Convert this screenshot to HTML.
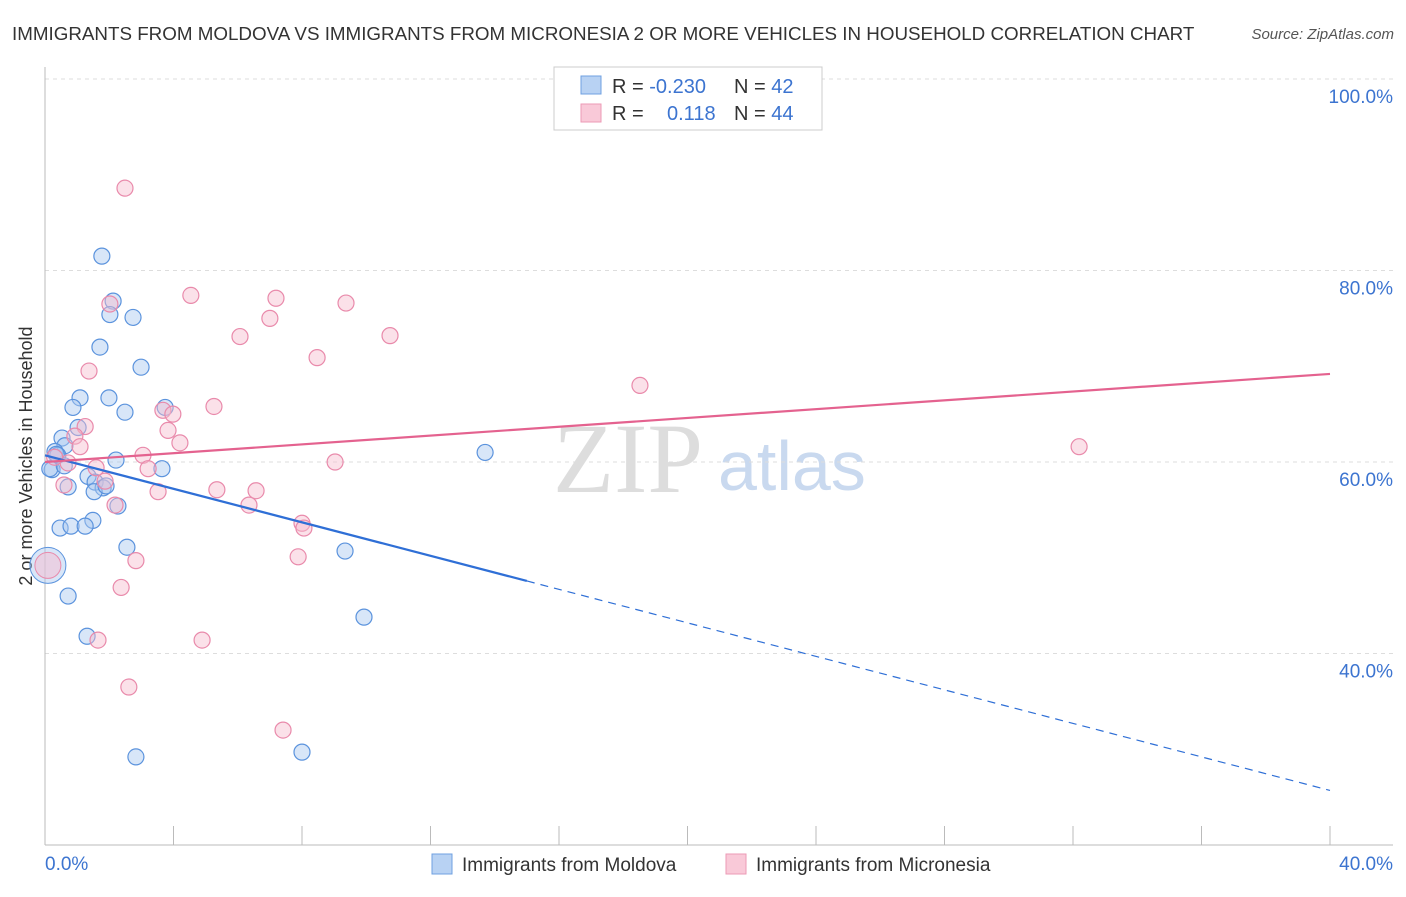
<!DOCTYPE html>
<html><head><meta charset="utf-8"><style>
body{margin:0;background:#fff;font-family:"Liberation Sans",sans-serif;}
svg text{font-family:"Liberation Sans",sans-serif;}
</style></head><body>
<svg id="c" width="1406" height="892">
<text x="12" y="40" font-size="18.8" fill="#333">IMMIGRANTS FROM MOLDOVA VS IMMIGRANTS FROM MICRONESIA 2 OR MORE VEHICLES IN HOUSEHOLD CORRELATION CHART</text>
<text x="1394" y="39" font-size="15" fill="#555" font-style="italic" text-anchor="end">Source: ZipAtlas.com</text>
<text x="32" y="456" font-size="18" fill="#333" text-anchor="middle" transform="rotate(-90 32 456)">2 or more Vehicles in Household</text>
<text x="553" y="492" font-size="100" fill="#ddd" style="font-family:'Liberation Serif',serif">ZIP</text>
<text x="718" y="490" font-size="70" fill="#c9d9ef">atlas</text>
<g id="grid"></g><g id="marks"></g>
<g>
<rect x="554" y="67" width="268" height="63" fill="#fff" stroke="#ccc"/>
<rect x="581" y="76" width="20" height="18" fill="#b8d2f3" stroke="#6fa0e0"/>
<rect x="581" y="104" width="20" height="18" fill="#f9c9d8" stroke="#ec9ab6"/>
<text x="612" y="93" font-size="20" fill="#333">R = <tspan fill="#3c74d0">-0.230</tspan></text>
<text x="734" y="93" font-size="20" fill="#333">N = <tspan fill="#3c74d0">42</tspan></text>
<text x="612" y="120" font-size="20" fill="#333">R = <tspan x="667" fill="#3c74d0">0.118</tspan></text>
<text x="734" y="120" font-size="20" fill="#333">N = <tspan fill="#3c74d0">44</tspan></text>
</g>
<g>
<rect x="432" y="854" width="20" height="20" fill="#b8d2f3" stroke="#6fa0e0"/>
<text x="462" y="871" font-size="19" fill="#333">Immigrants from Moldova</text>
<rect x="726" y="854" width="20" height="20" fill="#f9c9d8" stroke="#ec9ab6"/>
<text x="756" y="871" font-size="19" fill="#333">Immigrants from Micronesia</text>
</g>
</svg>
<script>
const yTicks=[40,60,80,100];
const xTickLabels=["0.0%","40.0%"];
const blueX=[1.77,2.12,2.02,2.74,1.71,2.99,1.09,1.99,0.87,2.49,3.74,1.03,0.53,0.62,0.31,0.40,2.21,0.22,3.64,1.34,1.56,0.72,1.81,1.53,2.27,1.49,0.47,0.81,1.25,2.55,9.34,0.72,1.31,9.93,2.83,8.0,13.7,0.15,0.35,1.9,0.6];
const blueY=[81.5,76.8,75.4,75.1,72.0,69.9,66.7,66.7,65.7,65.2,65.7,63.6,62.5,61.7,61.1,60.7,60.2,59.2,59.3,58.5,57.9,57.4,57.3,56.9,55.4,53.9,53.1,53.3,53.3,51.1,50.7,46.0,41.8,43.8,29.2,29.7,61.0,59.3,60.8,57.5,59.6];
const pinkX=[2.49,4.54,7.19,9.37,2.02,7.0,6.07,10.74,8.47,1.37,18.52,5.26,3.67,3.98,1.25,3.83,0.93,4.2,1.09,3.05,32.19,9.03,0.72,1.59,3.21,1.87,0.59,3.52,5.35,6.57,2.18,6.35,8.0,8.06,7.88,2.83,2.37,1.65,4.89,2.61,7.41,0.3];
const pinkY=[88.6,77.4,77.1,76.6,76.5,75.0,73.1,73.2,70.9,69.5,68.0,65.8,65.4,65.0,63.7,63.3,62.7,62.0,61.6,60.7,61.6,60.0,59.9,59.4,59.3,58.0,57.6,56.9,57.1,57.0,55.5,55.5,53.6,53.1,50.1,49.7,46.9,41.4,41.4,36.5,32.0,60.5];
const bigPoint=[0.09,49.2];
const blueTrend=[60.7,25.7], pinkTrend=[60.0,69.2], blueSolidEnd=15;
const X0=45,X1=1330;
const sx=v=>X0+(v/40)*(X1-X0);
const sy=v=>462-(v-60)/20*191.5;
const NS="http://www.w3.org/2000/svg";
function mk(parent,tag,attrs){const e=document.createElementNS(NS,tag);for(const k in attrs)e.setAttribute(k,attrs[k]);parent.appendChild(e);return e;}
const grid=document.getElementById('grid'),marks=document.getElementById('marks');
yTicks.forEach(t=>{
 const l=mk(grid,'line',{x1:45,x2:1393,y1:sy(t),y2:sy(t),stroke:'#ddd','stroke-dasharray':'4,4'});
 
 
 const tx=mk(grid,'text',{x:1393,y:sy(t)+24,'font-size':19,fill:'#3c74d0','text-anchor':'end'});tx.textContent=t.toFixed(1)+'%';
 
 
});
const ax=mk(grid,'line',{x1:45,x2:1393,y1:845,y2:845,stroke:'#bbb'});


const ay=mk(grid,'line',{x1:45,x2:45,y1:67,y2:845,stroke:'#bbb'});


for(let i=0;i<=10;i++){const t=mk(grid,'line',{x1:sx(i*4),x2:sx(i*4),y1:826,y2:845,stroke:'#bbb'});
 
 }
xTickLabels.forEach((s,i)=>{const t=mk(grid,'text',{x:i?1393:45,y:870,'font-size':19,fill:'#3c74d0','text-anchor':i?'end':'start'});t.textContent=s;
 
 });
function pts(xs,ys,fill,stroke,name){xs.forEach((x,i)=>{const c=mk(marks,'circle',{cx:sx(x),cy:sy(ys[i]),r:8,fill:fill,'fill-opacity':0.45,stroke:stroke,'stroke-width':1.2});
 
 });}
pts(blueX,blueY,'#a9c8f0','#5b93dd','moldova-point');
pts(pinkX,pinkY,'#f7bccf','#e98aab','micronesia-point');
const b1=mk(marks,'circle',{cx:sx(bigPoint[0]),cy:sy(bigPoint[1]),r:18,fill:'#a9c8f0','fill-opacity':0.45,stroke:'#5b93dd'});


const b2=mk(marks,'circle',{cx:sx(bigPoint[0]),cy:sy(bigPoint[1]),r:13,fill:'#f7bccf','fill-opacity':0.5,stroke:'#e98aab'});


const by=x=>blueTrend[0]+(blueTrend[1]-blueTrend[0])*x/40;
const l1=mk(marks,'line',{x1:sx(0),y1:sy(by(0)),x2:sx(blueSolidEnd),y2:sy(by(blueSolidEnd)),stroke:'#2f6fd6','stroke-width':2.2});


const l2=mk(marks,'line',{x1:sx(blueSolidEnd),y1:sy(by(blueSolidEnd)),x2:sx(40),y2:sy(by(40)),stroke:'#2f6fd6','stroke-width':1.2,'stroke-dasharray':'8,6'});


const l3=mk(marks,'line',{x1:sx(0),y1:sy(pinkTrend[0]),x2:sx(40),y2:sy(pinkTrend[1]),stroke:'#e4628f','stroke-width':2.2});


</script>
</body></html>
